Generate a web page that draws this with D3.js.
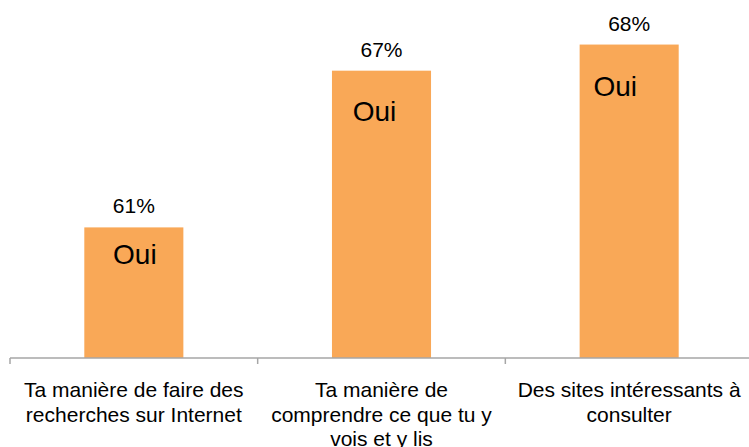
<!DOCTYPE html>
<html>
<head>
<meta charset="utf-8">
<script src="https://cdn.jsdelivr.net/npm/d3@7"></script>
<style>
  body { margin: 0; background: #fff; }
  text { font-family: "Liberation Sans", Arial, sans-serif; fill: #000; }
</style>
</head>
<body>
<div id="chart"></div>
<script>
// Data
const categories = [
    "Ta manière de faire des\nrecherches sur Internet",
    "Ta manière de\ncomprendre ce que tu y\nvois et y lis",
    "Des sites intéressants à\nconsulter"
];
const values = [61, 67, 68];
const innerLabels = ["Oui", "Oui", "Oui"];

const width = 749;
const height = 447;

// hand-placed "Oui" labels (offset from bar centre / bar top)
const ouiDx = [1, -7, -14];
const ouiDy = [37, 50, 51];

const svg = d3.select("#chart")
    .append("svg")
    .attr("width", width)
    .attr("height", height);

const x = d3.scaleBand()
    .domain(categories)
    .range([10, 753])
    .paddingInner(0.6)
    .paddingOuter(0.3);

const y = d3.scaleLinear()
    .domain([56, 70])
    .range([358, 358 - 14 * 26.12]);

// Bars
svg.selectAll("rect.bar")
    .data(values)
  .enter().append("rect")
    .attr("class", "bar")
    .attr("x", (d, i) => x(categories[i]))
    .attr("y", d => y(d))
    .attr("width", x.bandwidth())
    .attr("height", d => y.range()[0] - y(d))
    .attr("fill", "#F9A857");

// Axis line + ticks at category boundaries
const axis = svg.append("g").attr("stroke", "#A6A6A6").attr("stroke-width", 1.5);
axis.append("line")
    .attr("x1", x.range()[0]).attr("x2", width)
    .attr("y1", y.range()[0]).attr("y2", y.range()[0]);
const bounds = d3.range(categories.length + 1).map(i => x.range()[0] + i * x.step());
axis.selectAll("line.tick")
    .data(bounds)
  .enter().append("line")
    .attr("class", "tick")
    .attr("x1", d => d).attr("x2", d => d)
    .attr("y1", y.range()[0]).attr("y2", y.range()[0] + 6);

// Value labels
svg.selectAll("text.value")
    .data(values)
  .enter().append("text")
    .attr("class", "value")
    .attr("x", (d, i) => x(categories[i]) + x.bandwidth() / 2)
    .attr("y", d => y(d) - 14)
    .attr("text-anchor", "middle")
    .style("font-size", "21px")
    .text(d => d + "%");

// "Oui" labels inside bars
svg.selectAll("text.inner")
    .data(values)
  .enter().append("text")
    .attr("class", "inner")
    .attr("x", (d, i) => x(categories[i]) + x.bandwidth() / 2 + ouiDx[i])
    .attr("y", (d, i) => y(d) + ouiDy[i])
    .attr("text-anchor", "middle")
    .style("font-size", "28px")
    .text((d, i) => innerLabels[i]);

// Category labels
const cat = svg.selectAll("text.cat")
    .data(categories)
  .enter().append("text")
    .attr("class", "cat")
    .attr("x", d => x(d) + x.bandwidth() / 2)
    .attr("y", 397)
    .attr("text-anchor", "middle")
    .style("font-size", "21px");

cat.selectAll("tspan")
    .data(d => d.split("\n"))
  .enter().append("tspan")
    .attr("x", function() { return this.parentNode.getAttribute("x"); })
    .attr("dy", (d, i) => i === 0 ? 0 : 24.5)
    .text(d => d);
</script>
</body>
</html>
